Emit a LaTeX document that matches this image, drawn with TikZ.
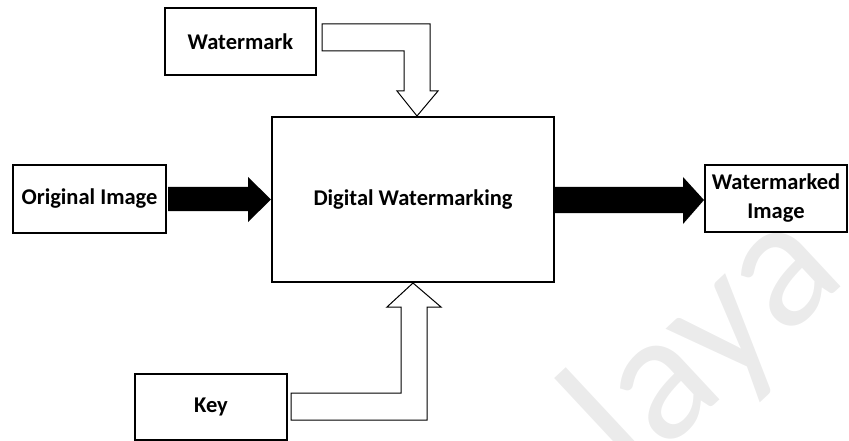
\documentclass[tikz,border=0pt]{standalone}
\usepackage{fontspec}
\setmainfont{Carlito}
\newfontfamily\wmfont{Carlito}
\definecolor{wmgray}{HTML}{EBEBEB}
\begin{document}
\begin{tikzpicture}[x=1pt,y=-1pt,
  box/.style={draw,line width=2pt,fill=white,inner sep=0pt,font=\bfseries\fontsize{22.5}{29}\selectfont,align=center},
  hollow/.style={draw,line width=1pt,fill=white,line join=miter},
  solid/.style={fill=black}]
\useasboundingbox (0,0) rectangle (849,441);
\clip (0,0) rectangle (849,441);
% faint background watermark
\node[text=wmgray,font=\wmfont\fontsize{185}{185}\selectfont,rotate=43,anchor=base west,inner sep=0pt] (wm) at (632,482) {laya};
% boxes
\node[box,minimum width=151pt,minimum height=67pt] (wmk) at (240.5,41.5) {Watermark};
\node[box,minimum width=282pt,minimum height=165pt] (dw) at (413,199.5) {Digital Watermarking};
\node[box,minimum width=153pt,minimum height=68pt] (orig) at (89.5,199) {Original Image};
\node[box,minimum width=142pt,minimum height=67pt] (out) at (776,198.5) {Watermarked\\Image};
\node[box,minimum width=152pt,minimum height=66pt] (key) at (211,407) {Key};
% watermark L-arrow
\draw[hollow] ([xshift=5pt]wmk.east |- 0,24) -- (430,24) -- (430,91) -- (438,91) -- (dw.north -| 417,0)
  -- (397,91) -- (404,91) -- (404,51) -- ([xshift=5pt]wmk.east |- 0,51) -- cycle;
% key L-arrow
\draw[hollow] ([xshift=3pt]key.east |- 0,393) -- (401,393) -- (401,307) -- (387,307) -- (dw.south -| 413,0)
  -- (441,307) -- (427,307) -- (427,420) -- ([xshift=3pt]key.east |- 0,420) -- cycle;
% solid arrows
\fill[solid] ([xshift=1pt]orig.east |- 0,187) -- (248,187) -- (248,177) -- (dw.west |- 0,199.5)
  -- (248,222) -- (248,211) -- ([xshift=1pt]orig.east |- 0,211) -- cycle;
\fill[solid] (dw.east |- 0,187) -- (683,187) -- (683,177) -- (out.west |- 0,200)
  -- (683,224) -- (683,213) -- (dw.east |- 0,213) -- cycle;
\end{tikzpicture}
\end{document}
